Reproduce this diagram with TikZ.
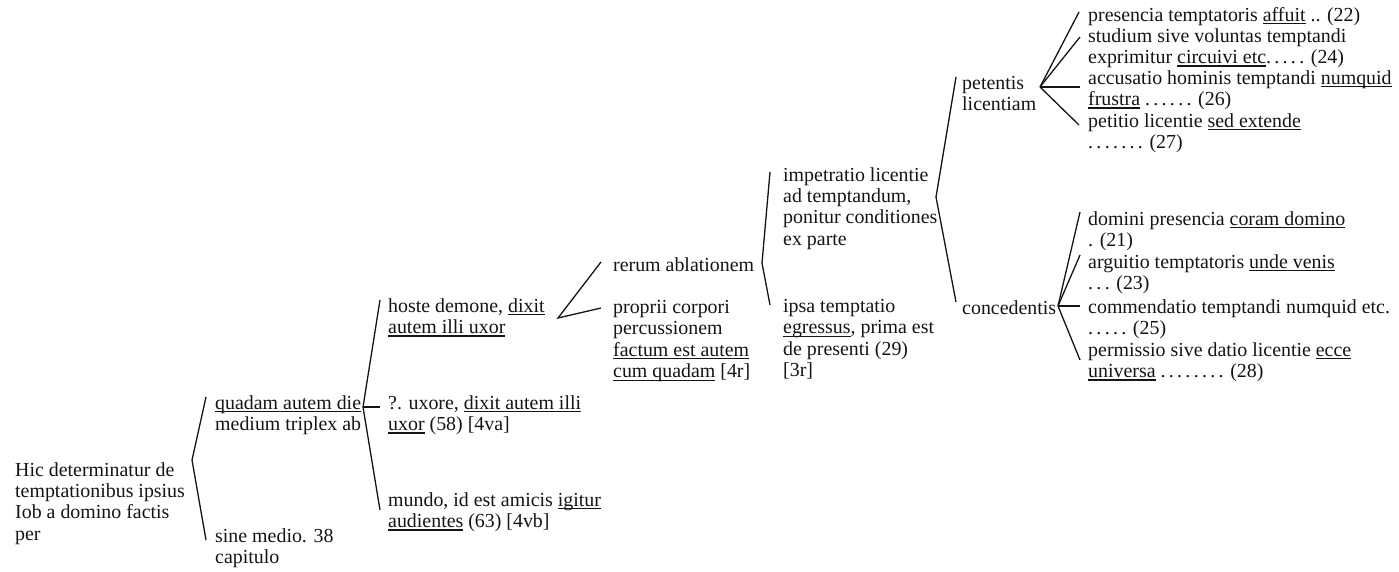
\documentclass[tikz,border=0pt]{standalone}
\usepackage{fontspec}
\setmainfont{Liberation Serif}
\usetikzlibrary{calc}
\definecolor{ink}{HTML}{141414}
% underline at a fixed depth below the baseline
\newsavebox{\undbox}
\newcommand{\und}[1]{\sbox{\undbox}{#1}\rlap{\vrule height -2pt depth 3.3pt width \wd\undbox}\usebox{\undbox}}
\begin{document}
\begin{tikzpicture}[x=1pt, y=-1pt,
  % each block is placed by the top of its first line (first baseline = top + 17)
  txt/.style={anchor=north west, inner sep=0pt, align=left, yshift=-2pt,
    font=\fontsize{19.9}{21.4}\selectfont, text=ink,
    execute at begin node=\strut},
  link/.style={draw=ink, line width=1.3pt, line join=miter}]
\useasboundingbox (0,0) rectangle (1399,572);

% ---- text blocks, left to right ----
\node[txt] (A) at (15,460) {Hic determinatur de\\temptationibus ipsius\\Iob a domino factis\\per};

\node[txt] (B1) at (215,393) {\und{quadam autem die}\\medium triplex ab};
\node[txt] (B2) at (215,526) {sine medio. 38\\capitulo};

\node[txt] (C1) at (388,296) {hoste demone, \und{dixit}\\\und{autem illi uxor}};
\node[txt] (C2) at (388,393) {?. uxore, \und{dixit autem illi}\\\und{uxor} (58) {[4va]}};
\node[txt] (C3) at (388,490) {mundo, id est amicis \und{igitur}\\\und{audientes} (63) {[4vb]}};

\node[txt] (D1) at (613,254) {rerum ablationem};
\node[txt] (D2) at (613,298) {proprii corpori\\percussionem\\\und{factum est autem}\\\und{cum quadam} {[4r]}};

\node[txt] (E1) at (783,165) {impetratio licentie\\ad temptandum,\\ponitur conditiones\\ex parte};
\node[txt] (E2) at (783,297) {ipsa temptatio\\\und{egressus}, prima est\\de presenti (29)\\{[3r]}};

\node[txt] (F1) at (962,74) {petentis\\licentiam};
\node[txt] (F2) at (962,297) {concedentis};

\node[txt] (G1) at (1088,4) {presencia temptatoris \und{affuit} .. (22)};
\node[txt] (G2) at (1088,26) {studium sive voluntas temptandi\\exprimitur \und{circuivi etc}.\,.\,.\,.\,. (24)};
\node[txt] (G3) at (1088,68) {accusatio hominis temptandi \und{numquid}\\\und{frustra} .\,.\,.\,.\,.\,. (26)};
\node[txt] (G4) at (1088,111) {petitio licentie \und{sed extende}\\.\,.\,.\,.\,.\,.\,. (27)};

\node[txt] (H1) at (1088,209) {domini presencia \und{coram domino}\\. (21)};
\node[txt] (H2) at (1088,252) {arguitio temptatoris \und{unde venis}\\.\,.\,. (23)};
\node[txt] (H3) at (1088,297) {commendatio temptandi numquid etc.\\.\,.\,.\,.\,. (25)};
\node[txt] (H4) at (1088,340) {permissio sive datio licentie \und{ecce}\\\und{universa} .\,.\,.\,.\,.\,.\,.\,. (28)};

% ---- branching points ----
\coordinate (vA) at (192,460);
\coordinate (vB) at (363,407);
\coordinate (vC) at (558,318);
\coordinate (vD) at (762,263);
\coordinate (vE) at (936,197);
\coordinate (vF) at (1040,87);
\coordinate (vG) at (1058,306);

% ---- braces and fans (offsets from the top-left of each target block) ----
\draw[link] ($(B1.north west)+(-9,2)$) -- (vA) -- ($(B2.north west)+(-9,12)$);

\draw[link] ($(C1.north west)+(-8,2)$) -- (vB) -- ($(C3.north west)+(-8,18)$);
\draw[link] (vB) -- ($(C2.north west)+(-8,12)$);

\draw[link] ($(D1.north west)+(-12,6)$) -- (vC) -- ($(D2.north west)+(-12,8)$);

\draw[link] ($(E1.north west)+(-13,5)$) -- (vD) -- ($(E2.north west)+(-13,6)$);

\draw[link] ($(F1.north west)+(-6,1)$) -- (vE) -- ($(F2.north west)+(-6,3)$);

\draw[link] (vF) -- ($(G1.north west)+(-9,6)$);
\draw[link] (vF) -- ($(G2.north west)+(-8,9)$);
\draw[link] (vF) -- ($(G3.north west)+(-8,17)$);
\draw[link] (vF) -- ($(G4.north west)+(-9,12)$);

\draw[link] (vG) -- ($(H1.north west)+(-8,1)$);
\draw[link] (vG) -- ($(H2.north west)+(-8,1)$);
\draw[link] (vG) -- ($(H3.north west)+(-8,7)$);
\draw[link] (vG) -- ($(H4.north west)+(-8,18)$);
\end{tikzpicture}
\end{document}
